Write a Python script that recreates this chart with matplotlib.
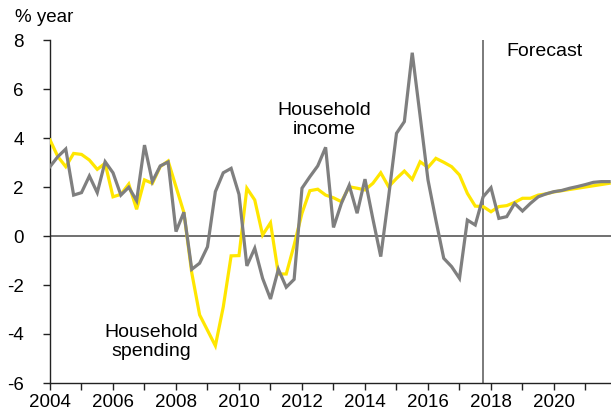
import matplotlib
matplotlib.use("Agg")
import matplotlib.pyplot as plt
import numpy as np

plt.rcParams['font.family'] = ['Liberation Sans', 'DejaVu Sans']

start_year = 2004.0
spending = [3.92, 3.24, 2.83, 3.37, 3.33, 3.10, 2.72, 2.97, 1.60, 1.70, 2.12, 1.09,
            2.29, 2.15, 2.83, 3.06, 2.01, 0.96, -1.50, -3.22, -3.85, -4.48, -2.90, -0.81,
            -0.80, 1.95, 1.47, 0.04, 0.54, -1.55, -1.55, -0.37, 0.93, 1.85, 1.91, 1.67,
            1.56, 1.40, 2.01, 1.95, 1.88, 2.15, 2.58, 2.01, 2.35, 2.65, 2.31, 3.03,
            2.80, 3.17, 3.01, 2.83, 2.49, 1.74, 1.22, 1.20, 0.99, 1.20, 1.24, 1.37,
            1.54, 1.54, 1.67, 1.72, 1.80, 1.85, 1.90, 1.95, 2.00, 2.05, 2.10, 2.15]
income = [2.83, 3.24, 3.55, 1.67, 1.77, 2.45, 1.77, 3.03, 2.58, 1.67, 1.99, 1.44,
          3.71, 2.22, 2.86, 3.02, 0.18, 0.97, -1.36, -1.11, -0.44, 1.81, 2.58, 2.76,
          1.70, -1.22, -0.50, -1.73, -2.57, -1.36, -2.09, -1.77, 1.95, 2.42, 2.86, 3.62,
          0.35, 1.33, 2.07, 0.93, 2.32, 0.70, -0.84, 1.60, 4.19, 4.67, 7.48, 4.90,
          2.29, 0.65, -0.91, -1.25, -1.73, 0.65, 0.45, 1.60, 1.97, 0.72, 0.79, 1.33,
          1.02, 1.33, 1.60, 1.72, 1.81, 1.86, 1.95, 2.02, 2.10, 2.19, 2.22, 2.22]
forecast_start = 2017.75
yticks = [-6, -4, -2, 0, 2, 4, 6, 8]

t = start_year + np.arange(len(spending)) / 4.0

fig = plt.figure(figsize=(6.11, 4.16), dpi=100)
ax = fig.add_axes([50/611, 33/416, 561/611, 343/416])

ax.axhline(0, color='#707070', lw=1.4, zorder=1)
ax.axvline(forecast_start, color='#707070', lw=1.3, zorder=1)
ax.plot(t, spending, color='#FFE600', lw=2.3, zorder=3, solid_joinstyle='miter')
ax.plot(t, income, color='#7F7F7F', lw=2.3, zorder=4, solid_joinstyle='miter')

ax.set_xlim(2004, 2021.81)
ax.set_ylim(-6, 8)
ax.set_xticks(np.arange(2004, 2022, 1))
ax.set_xticklabels([str(y) if y % 2 == 0 else '' for y in range(2004, 2022)])
ax.set_yticks(yticks)
ax.set_yticklabels([str(v) for v in yticks])
ax.tick_params(axis='both', direction='out', length=5, width=1, labelsize=13.5,
               color='#222222', labelcolor='black')
ax.tick_params(axis='x', pad=3)
ax.tick_params(axis='y', pad=14)

for s in ['top', 'right']:
    ax.spines[s].set_visible(False)
for s in ['left', 'bottom']:
    ax.spines[s].set_color('#222222')
    ax.spines[s].set_linewidth(1.0)

fig.text(15/611, 1 - 17/416, '% year', fontsize=13.5, ha='left', va='center')
ax.text(2019.71, 7.55, 'Forecast', fontsize=14, ha='center', va='center')
ax.text(2012.7, 4.73, 'Household\nincome', fontsize=14, ha='center', va='center',
        linespacing=1.2)
ax.text(2007.2, -4.33, 'Household\nspending', fontsize=14, ha='center', va='center',
        linespacing=1.2)

fig.savefig('out.png', dpi=100)
